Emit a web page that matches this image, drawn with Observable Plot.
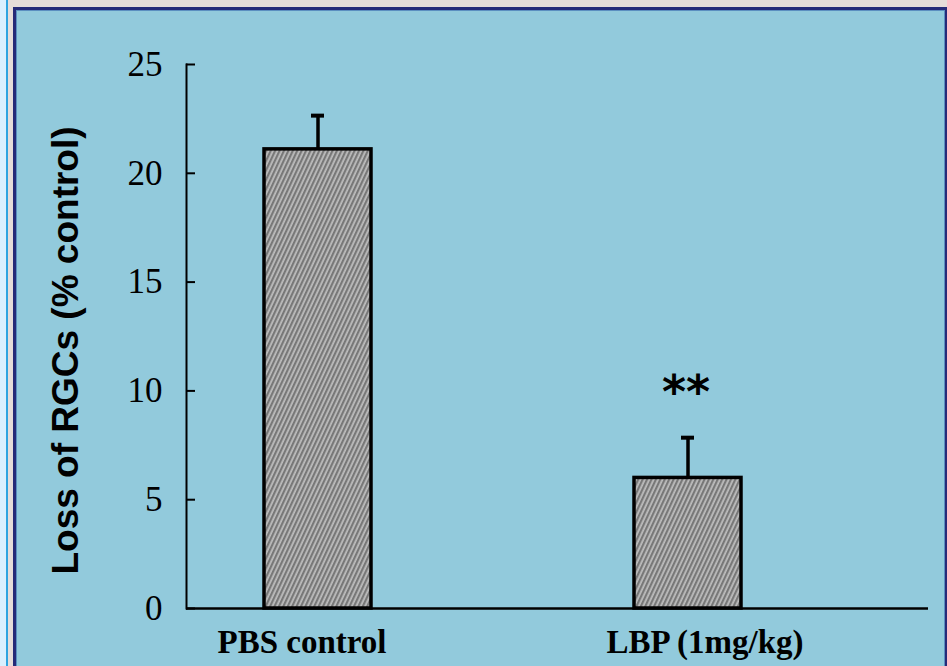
<!DOCTYPE html>
<html>
<head>
<meta charset="utf-8">
<script src="https://cdn.jsdelivr.net/npm/d3@7"></script>
<script src="https://cdn.jsdelivr.net/npm/@observablehq/plot@0.6"></script>
<style>
  html, body { margin: 0; padding: 0; width: 947px; height: 666px; overflow: hidden; background: #e6dcd9; }
  #leftpanel { position: absolute; left: 0; top: 0; width: 6px; height: 666px; background: #d9effe; border-right: 2px solid #2ea3e0; }
  #panel { position: absolute; left: 13px; top: 7px; width: 929px; height: 665px; background: #92cadc; border: 3px solid #262a78; box-shadow: inset 0 0 0 1px #5b8fc0; }
  #chart { position: absolute; left: 0; top: 0; }
  #chart svg { background: transparent; overflow: visible; }
</style>
</head>
<body>
<div id="leftpanel"></div>
<div id="panel"></div>
<div id="chart"></div>
<script>
const categories = ["PBS control", "LBP (1mg/kg)"];
const means = [21.1, 6.0];
const errorTops = [22.65, 7.85];
const significance = ["", "**"];
const yTicks = [0, 5, 10, 15, 20, 25];
const yLabel = "Loss of RGCs (% control)";

const data = categories.map((c, i) => ({cat: c, mean: means[i], err: errorTops[i], sig: significance[i]}));

const xLabelStyle = {tickSize: 0, tickPadding: 21, fontFamily: "Liberation Serif", fontWeight: "bold", fontSize: 33, label: null};

const plot = Plot.plot({
  width: 947,
  height: 666,
  marginLeft: 186,
  marginRight: 19,
  marginTop: 64,
  marginBottom: 58,
  style: {background: "transparent", color: "black"},
  x: {domain: categories, range: [264, 741], paddingInner: 0.712, paddingOuter: 0},
  y: {domain: [0, 25], ticks: yTicks},
  marks: [
    Plot.axisY(yTicks, {tickSize: 0, tickPadding: 24, fontFamily: "Liberation Serif", fontSize: 35, label: null}),
    Plot.axisX([categories[0]], {...xLabelStyle, dx: -16}),
    Plot.axisX([categories[1]], {...xLabelStyle, dx: 17}),
    Plot.tickY(yTicks, {y: d => d, insetRight: 733, stroke: "black", strokeWidth: 2}),
    Plot.frame({anchor: "left", stroke: "black", strokeWidth: 2}),
    Plot.ruleY([0], {stroke: "black", strokeWidth: 2.5}),
    Plot.ruleX(data, {x: "cat", y1: "mean", y2: "err", stroke: "black", strokeWidth: 3.5}),
    Plot.tickY(data, {x: "cat", y: "err", insetLeft: 47, insetRight: 47, stroke: "black", strokeWidth: 4}),
    Plot.barY(data, {x: "cat", y: "mean", fill: "url(#hatch)", stroke: "black", strokeWidth: 3.5}),
    Plot.text(data, {x: "cat", y: "err", text: "sig", dy: -44, dx: -2, fontSize: 46, fontWeight: "bold", fontFamily: "DejaVu Sans", fill: "black"}),
    Plot.text([yLabel], {frameAnchor: "left", textAnchor: "middle", text: d => d, rotate: -90, dx: -120, dy: 14, fontFamily: "Liberation Sans", fontWeight: "bold", fontSize: 37, fill: "black"})
  ]
});

const svg = d3.select(plot);
const defs = svg.insert("defs", ":first-child");
const pat = defs.append("pattern")
  .attr("id", "hatch")
  .attr("patternUnits", "userSpaceOnUse")
  .attr("width", 4).attr("height", 4)
  .attr("patternTransform", "rotate(25)");
pat.append("rect").attr("width", 4).attr("height", 4).attr("fill", "#bdbdbd");
pat.append("rect").attr("width", 2.2).attr("height", 4).attr("fill", "#787878");

document.getElementById("chart").appendChild(plot);
</script>
</body>
</html>
